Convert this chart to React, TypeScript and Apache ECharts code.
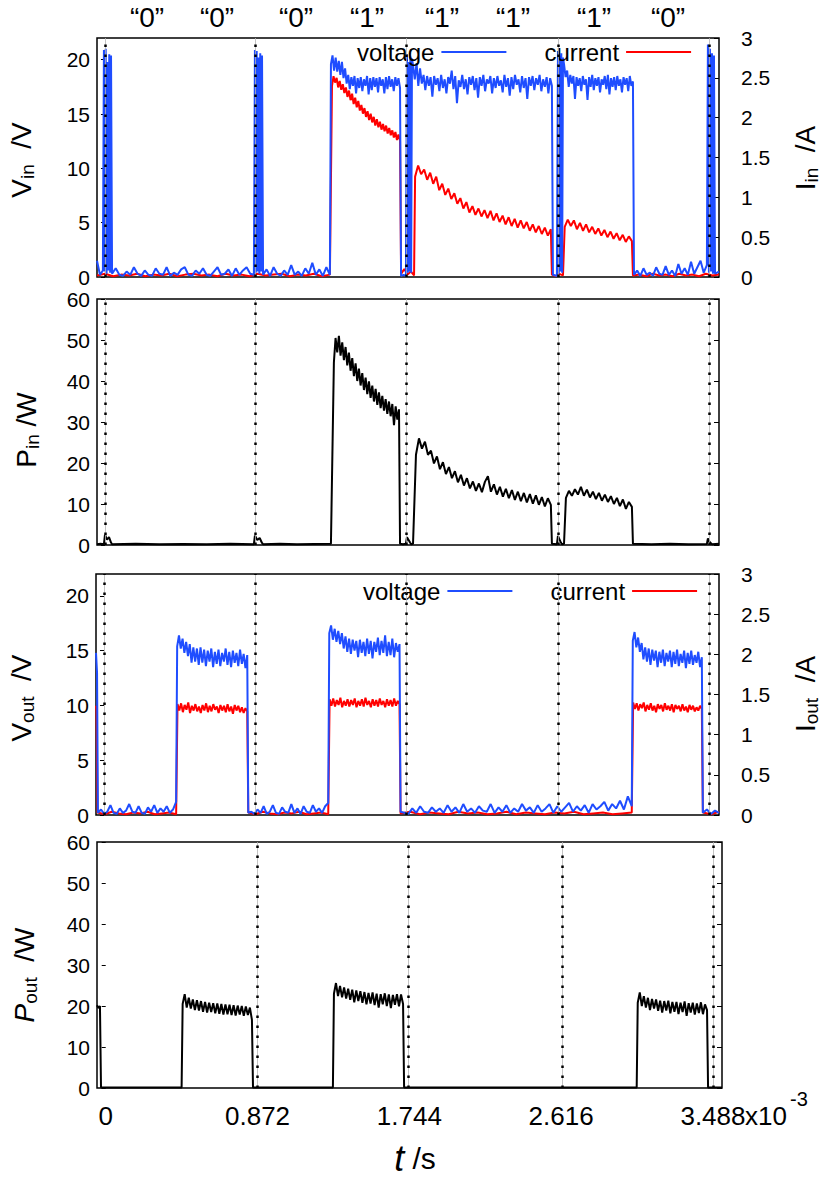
import React, { useEffect, useRef } from 'react';
import * as echarts from 'echarts';

const FONT = 'Liberation Sans, Arial, Helvetica, sans-serif';
const BLUE = '#1f4dff';
const RED = '#ff0000';
const BLACK = '#000000';

type Run = [number, number, number[]];

// time in ms (axis shown as x10^-3 s); each run: [tStart, tEnd, sampled values]
const vinRuns: Run[] = [
  [-0.046, -0.012, [1.5, 0.2, 0.6]],
  [-0.006, 0.035, [20.9, 0.5, 21.0, 0.3, 19.8, 0.6, 20.5, 0.4, 20.4]],
  [0.041, 0.86, [0.3, 0.8, 0.2, 0.1, 0.5, 0.2, 0.9, 0.3, 0.1, 0.6, 0.2, 0.1, 0.8, 0.3, 0.2, 0.9, 0.1, 0.4, 0.2, 0.7, 0.9, 0.2, 0.1, 0.6, 0.3, 0.8, 0.2, 0.1, 0.5, 0.9, 0.2, 0.3, 0.7, 0.1, 0.8, 0.2, 0.6, 0.9, 0.3, 0.2]],
  [0.866, 0.907, [20.9, 0.4, 20.8, 0.5, 20.2, 0.3, 20.6, 0.5, 20.4]],
  [0.913, 1.299, [0.2, 0.7, 0.1, 0.9, 0.3, 0.1, 0.6, 0.2, 1.1, 0.2, 0.5, 0.1, 0.8, 0.3, 1.3, 0.2, 0.7, 0.1, 0.9, 0.2]],
  [1.305, 1.704, [19.6, 20.4, 19.0, 20.2, 18.9, 19.9, 18.6, 19.8, 18.3, 19.2, 17.8, 18.6, 17.3, 18.4, 17.6, 18.5, 16.9, 18.3, 17.4, 18.4, 17.1, 18.2, 17.6, 18.5, 16.8, 18.3, 17.2, 18.4, 17.5, 18.3, 17.0, 18.4, 17.6, 18.2, 16.9, 18.4, 17.3, 18.5, 17.5, 18.2, 17.1, 18.4, 17.6, 18.3, 17.4]],
  [1.71, 1.738, [0.1, 0.2, 0.1]],
  [1.744, 1.773, [20.5, 0.4, 19.8, 0.5, 20.3, 0.4, 20.1]],
  [1.779, 2.581, [19.5, 18.2, 19.7, 17.6, 19.2, 17.8, 18.6, 17.2, 18.5, 17.6, 18.4, 16.6, 18.5, 17.7, 18.3, 17.1, 18.6, 17.4, 18.2, 16.9, 18.4, 17.8, 19.0, 17.3, 18.5, 16.0, 18.1, 17.5, 18.6, 17.3, 18.2, 16.8, 18.4, 17.7, 18.5, 17.2, 18.3, 16.5, 18.4, 17.6, 18.6, 17.1, 18.2, 17.8, 18.5, 16.9, 18.3, 17.4, 18.5, 17.6, 18.1, 17.0, 18.6, 17.5, 18.3, 16.7, 18.4, 17.3, 18.6, 17.7, 18.2, 17.0, 18.5, 17.4, 18.3, 16.4, 18.4, 17.6, 18.5, 17.2, 18.3, 17.7, 18.6, 17.1, 18.2, 17.5, 18.4, 16.9, 18.3, 17.6]],
  [2.587, 2.61, [0.2, 0.1]],
  [2.616, 2.645, [20.8, 0.3, 20.4, 0.5, 20.6, 0.4, 20.2]],
  [2.651, 3.049, [19.6, 18.4, 19.0, 17.5, 18.6, 17.8, 18.5, 16.4, 18.4, 17.6, 18.3, 17.1, 18.5, 17.7, 18.2, 16.3, 18.4, 17.5, 18.6, 17.2, 18.3, 17.6, 18.4, 17.0, 18.2, 17.7, 18.5, 17.3, 18.6, 16.8, 18.3, 17.5, 18.4, 17.2, 18.5, 17.6, 18.2, 17.0, 18.4, 17.7, 18.3, 17.1, 18.5, 17.6, 18.0]],
  [3.055, 3.476, [0.2, 0.6, 0.1, 0.8, 0.2, 0.4, 0.1, 0.9, 0.3, 0.2, 1.0, 0.2, 0.6, 0.1, 1.2, 0.3, 0.8, 0.2, 1.4, 0.3, 0.9, 1.5, 0.4, 1.1]],
  [3.482, 3.517, [21.4, 0.4, 21.0, 0.5, 20.6, 0.3, 20.4]],
  [3.523, 3.546, [0.3, 0.5]],
];

const iinRuns: Run[] = [
  [-0.046, 1.299, [0.02, 0.04, 0.01, 0.03, 0.02, 0.04, 0.01, 0.03, 0.02, 0.04, 0.01, 0.03, 0.04, 0.02, 0.03, 0.01, 0.04, 0.02, 0.03, 0.01, 0.04, 0.02, 0.03, 0.04, 0.01, 0.03, 0.02, 0.04, 0.01, 0.03]],
  [1.311, 1.704, [2.40, 2.52, 2.44, 2.50, 2.38, 2.46, 2.35, 2.42, 2.31, 2.38, 2.26, 2.34, 2.22, 2.30, 2.17, 2.25, 2.13, 2.21, 2.09, 2.16, 2.05, 2.12, 2.01, 2.08, 1.97, 2.05, 1.94, 2.01, 1.90, 1.98, 1.88, 1.95, 1.85, 1.92, 1.83, 1.90, 1.80, 1.87, 1.78, 1.84, 1.75, 1.82, 1.72, 1.79, 1.71]],
  [1.71, 1.785, [0.04, 0.1, 0.03, 0.07, 0.02]],
  [1.791, 2.575, [1.26, 1.40, 1.29, 1.35, 1.22, 1.31, 1.17, 1.26, 1.09, 1.17, 1.03, 1.11, 0.98, 1.05, 0.92, 0.99, 0.86, 0.94, 0.81, 0.89, 0.78, 0.86, 0.76, 0.84, 0.74, 0.83, 0.71, 0.80, 0.69, 0.77, 0.66, 0.75, 0.64, 0.73, 0.62, 0.71, 0.61, 0.69, 0.58, 0.66, 0.56, 0.64, 0.54, 0.62, 0.52, 0.60]],
  [2.581, 2.645, [0.03, 0.01, 0.04, 0.02]],
  [2.655, 3.043, [0.63, 0.72, 0.64, 0.71, 0.60, 0.68, 0.58, 0.66, 0.56, 0.63, 0.54, 0.61, 0.52, 0.59, 0.50, 0.57, 0.48, 0.55, 0.46, 0.53, 0.44, 0.51, 0.45]],
  [3.049, 3.546, [0.02, 0.03, 0.01, 0.04, 0.02, 0.03, 0.01, 0.04, 0.02, 0.03, 0.01, 0.04, 0.02, 0.03]],
];

const pinRuns: Run[] = [
  [-0.046, -0.006, [0.2, 0.3, 0.2]],
  [0.0, 0.035, [2.5, 1.3, 1.9, 0.6]],
  [0.041, 0.86, [0.2, 0.3, 0.2, 0.25, 0.2, 0.3, 0.2]],
  [0.866, 0.907, [2.3, 1.2, 1.7, 0.5]],
  [0.913, 1.305, [0.2, 0.3, 0.2, 0.25, 0.3]],
  [1.322, 1.698, [44.5, 50.5, 47.0, 51.0, 46.2, 49.4, 45.1, 48.3, 43.8, 46.9, 42.5, 45.6, 41.2, 44.3, 40.0, 43.0, 38.9, 41.9, 37.8, 40.8, 36.8, 39.9, 35.9, 38.9, 35.0, 38.1, 34.2, 37.2, 33.4, 36.4, 32.8, 35.6, 32.0, 35.0, 31.4, 34.4, 29.2, 33.8, 30.6, 33.1]],
  [1.704, 1.738, [0.3, 0.2, 0.3]],
  [1.744, 1.762, [1.9, 0.6]],
  [1.768, 1.779, [0.2, 0.3]],
  [1.796, 2.575, [22.0, 26.0, 23.5, 25.2, 22.0, 23.0, 19.9, 21.6, 18.5, 20.2, 17.3, 19.0, 16.3, 18.0, 15.3, 17.1, 14.5, 16.3, 13.8, 15.5, 13.2, 15.0, 12.9, 15.4, 16.8, 13.0, 14.8, 12.3, 14.2, 11.8, 13.7, 11.4, 13.4, 11.0, 13.0, 10.7, 12.7, 10.4, 12.4, 10.1, 12.1, 9.8, 11.7, 9.4, 11.4, 9.8]],
  [2.581, 2.61, [0.3, 0.2]],
  [2.616, 2.633, [2.2, 0.6]],
  [2.639, 2.651, [0.2, 0.3]],
  [2.662, 3.043, [11.5, 13.2, 12.0, 13.6, 12.3, 14.2, 12.0, 13.5, 11.6, 13.0, 11.2, 12.7, 10.8, 12.3, 10.5, 11.9, 10.0, 11.5, 9.5, 11.1, 8.8, 10.5, 9.3]],
  [3.049, 3.476, [0.3, 0.2, 0.3, 0.2, 0.25]],
  [3.482, 3.5, [1.6, 0.8, 0.4]],
  [3.506, 3.546, [0.2, 0.3]],
];

const voutRuns: Run[] = [
  [-0.046, -0.04, [14.8, 13.0]],
  [-0.035, 0.416, [0.2, 0.5, 0.1, 0.3, 0.9, 0.2, 0.1, 0.6, 0.2, 0.4, 1.0, 0.3, 0.2, 0.8, 0.2, 0.1, 0.7, 0.3, 0.9, 0.2, 0.6, 0.3, 0.8, 0.2, 0.5, 1.2]],
  [0.422, 0.826, [15.4, 16.4, 15.2, 16.1, 14.8, 15.8, 14.5, 15.6, 13.9, 15.3, 14.0, 15.2, 13.7, 15.3, 13.9, 15.1, 13.6, 15.0, 14.0, 15.2, 13.5, 14.9, 13.8, 15.1, 13.6, 14.8, 14.0, 15.2, 13.7, 14.9, 13.5, 15.0, 13.9, 14.8, 13.6, 15.1, 13.8, 14.7, 13.4, 14.6]],
  [0.832, 1.293, [0.2, 0.3, 0.1, 0.5, 0.2, 0.8, 0.1, 0.3, 0.9, 0.2, 0.1, 0.7, 0.3, 0.2, 1.0, 0.2, 0.6, 0.1, 0.8, 0.3, 0.2, 0.9, 0.3, 0.6, 0.2, 0.8, 1.1]],
  [1.299, 1.704, [16.6, 17.3, 16.0, 17.0, 15.8, 16.8, 15.6, 16.6, 15.2, 16.3, 14.9, 16.1, 14.7, 16.0, 15.0, 15.9, 14.4, 16.0, 14.8, 15.8, 14.5, 16.1, 14.7, 15.9, 14.3, 15.8, 14.9, 16.2, 14.6, 15.9, 14.8, 16.4, 14.5, 15.8, 14.6, 16.1, 14.4, 15.7, 14.9, 15.6]],
  [1.71, 3.043, [0.3, 0.2, 0.1, 0.6, 0.2, 0.8, 0.3, 0.2, 0.7, 0.3, 0.6, 0.2, 0.9, 0.3, 0.7, 0.2, 1.0, 0.3, 0.6, 0.2, 0.8, 0.4, 0.3, 1.0, 0.2, 0.7, 0.3, 0.9, 0.2, 0.6, 0.3, 1.0, 0.4, 0.7, 0.2, 0.9, 0.3, 0.6, 1.0, 0.2, 0.8, 0.3, 0.7, 1.1, 0.3, 0.8, 0.4, 0.9, 0.2, 1.0, 0.5, 0.8, 1.2, 0.4, 1.0, 0.6, 1.3, 0.5, 1.7, 0.8]],
  [3.049, 3.447, [15.9, 16.7, 15.3, 16.2, 14.9, 15.7, 14.2, 15.3, 14.0, 15.2, 13.7, 15.1, 14.1, 15.0, 13.5, 14.9, 13.9, 15.1, 13.6, 14.8, 14.0, 15.0, 13.5, 14.9, 13.8, 15.1, 13.6, 14.7, 13.9, 15.0, 13.4, 14.8, 13.8, 15.0, 13.7, 14.6, 13.9, 14.9, 13.5, 14.4]],
  [3.453, 3.546, [0.2, 0.5, 0.1, 0.4, 0.2]],
];

const ioutRuns: Run[] = [
  [-0.046, -0.043, [1.36, 1.3]],
  [-0.037, 0.416, [0.03, 0.01, 0.04, 0.02, 0.01, 0.03, 0.02, 0.04, 0.01, 0.02, 0.03, 0.01]],
  [0.424, 0.826, [1.38, 1.30, 1.39, 1.28, 1.37, 1.31, 1.40, 1.27, 1.36, 1.30, 1.38, 1.29, 1.35, 1.27, 1.37, 1.30, 1.39, 1.28, 1.36, 1.29, 1.38, 1.31, 1.35, 1.27, 1.37, 1.30, 1.36, 1.28, 1.38, 1.29, 1.35, 1.26, 1.37, 1.30, 1.36, 1.28, 1.34, 1.27, 1.33, 1.29]],
  [0.832, 1.293, [0.03, 0.01, 0.04, 0.02, 0.01, 0.03, 0.02, 0.04, 0.01, 0.02, 0.03, 0.01]],
  [1.301, 1.704, [1.44, 1.36, 1.45, 1.35, 1.43, 1.37, 1.46, 1.34, 1.42, 1.36, 1.44, 1.35, 1.43, 1.37, 1.45, 1.34, 1.42, 1.36, 1.44, 1.35, 1.46, 1.37, 1.42, 1.34, 1.44, 1.36, 1.43, 1.35, 1.45, 1.37, 1.42, 1.34, 1.44, 1.36, 1.43, 1.35, 1.45, 1.36, 1.42, 1.38]],
  [1.71, 3.043, [0.02, 0.04, 0.01, 0.03, 0.02, 0.01, 0.04, 0.02, 0.03, 0.01, 0.02, 0.04, 0.01, 0.03, 0.02, 0.01, 0.03, 0.02, 0.04, 0.01, 0.02, 0.03, 0.01, 0.02, 0.03]],
  [3.051, 3.447, [1.40, 1.32, 1.39, 1.30, 1.38, 1.33, 1.40, 1.29, 1.37, 1.31, 1.39, 1.30, 1.36, 1.28, 1.38, 1.32, 1.37, 1.29, 1.39, 1.31, 1.36, 1.30, 1.38, 1.28, 1.37, 1.32, 1.36, 1.29, 1.38, 1.30, 1.35, 1.28, 1.37, 1.31, 1.36, 1.29, 1.34, 1.30, 1.36, 1.32]],
  [3.453, 3.546, [0.03, 0.01, 0.04]],
];

const poutRuns: Run[] = [
  [-0.05, -0.033, [20.2, 19.5, 20.0]],
  [-0.027, 0.436, [0.1, 0.15, 0.1, 0.12, 0.1]],
  [0.442, 0.84, [20.5, 22.9, 19.6, 22.0, 19.4, 21.6, 19.0, 21.4, 18.9, 21.2, 18.6, 21.0, 18.4, 20.8, 18.5, 20.7, 18.2, 20.6, 18.1, 20.5, 17.9, 20.4, 18.0, 20.3, 17.8, 20.2, 17.7, 20.1, 17.9, 20.0, 17.6, 19.9, 17.8, 19.6, 16.6]],
  [0.846, 1.305, [0.1, 0.12, 0.1, 0.15]],
  [1.311, 1.708, [23.0, 25.6, 22.4, 24.9, 22.1, 24.5, 21.8, 24.2, 21.5, 24.0, 20.9, 23.8, 21.2, 23.6, 20.8, 23.4, 20.4, 23.2, 20.6, 23.3, 20.2, 23.0, 19.6, 22.9, 20.4, 23.1, 20.0, 22.8, 19.5, 22.7, 20.3, 22.9, 19.9, 22.8, 20.5]],
  [1.714, 3.05, [0.1, 0.12, 0.1, 0.15, 0.1, 0.12]],
  [3.056, 3.454, [20.8, 23.3, 20.0, 22.4, 19.6, 22.0, 19.0, 21.7, 19.4, 21.6, 18.8, 21.3, 18.4, 21.2, 18.9, 21.3, 18.2, 21.0, 18.6, 21.0, 18.0, 20.8, 18.5, 21.1, 17.6, 20.7, 18.4, 20.8, 17.9, 20.6, 18.3, 20.9, 18.0, 20.4, 19.0]],
  [3.46, 3.54, [0.1, 0.12, 0.1]],
];

const bitLabels = ['“0”', '“0”', '“0”', '“1”', '“1”', '“1”', '“1”', '“0”'];
const timeTicks = [0, 0.872, 1.744, 2.616, 3.488];
const guideTimesIn = [0, 0.872, 1.744, 2.616, 3.488];
const guideTimesOut = [0.872, 1.744, 2.616, 3.488];
const voltTicks = [0, 5, 10, 15, 20];
const legendNames = ['voltage', 'current'];

// layout (pixels)
const bitLabelX = [147, 217, 296, 367, 442, 513, 594, 668];

function expand(runs: Run[]): [number, number][] {
  const pts: [number, number][] = [];
  runs.forEach(([t0, t1, vals]) => {
    const n = vals.length;
    vals.forEach((v, i) => {
      const t = n === 1 ? t0 : t0 + ((t1 - t0) * i) / (n - 1);
      pts.push([t, v]);
    });
  });
  return pts;
}

function guides(times: number[]) {
  const data: any[] = [];
  times.forEach((t) => {
    data.push({ xAxis: t, lineStyle: { color: '#b4b4b4', width: 0.8, type: 'solid' } });
    data.push({ xAxis: t, lineStyle: { color: '#000', width: 2.5, type: [2.5, 7.5] } });
  });
  return {
    silent: true,
    symbol: ['none', 'none'],
    label: { show: false },
    emphasis: { disabled: true },
    animation: false,
    data,
  };
}

const tickLabelStyle = { fontSize: 21, fontFamily: FONT, color: '#000' };

function leftAxis(grid: number, max: number, custom?: number[], interval?: number) {
  const ax: any = {
    gridIndex: grid,
    type: 'value',
    min: 0,
    max,
    position: 'left',
    axisLine: { show: false },
    splitLine: { show: false },
    axisTick: { show: true, inside: false, length: 4, lineStyle: { color: '#000', width: 1 } },
    axisLabel: { ...tickLabelStyle, margin: 7 },
  };
  if (custom) {
    ax.axisTick.customValues = custom;
    ax.axisLabel.customValues = custom;
  }
  if (interval) ax.interval = interval;
  return ax;
}

function rightAxis(grid: number, max: number, interval: number, labels: boolean) {
  return {
    gridIndex: grid,
    type: 'value',
    min: 0,
    max,
    interval,
    position: 'right',
    axisLine: { show: false },
    splitLine: { show: false },
    axisTick: { show: true, inside: true, length: 5, lineStyle: { color: '#000', width: 1 } },
    axisLabel: { ...tickLabelStyle, margin: 22, show: labels },
  };
}

function hiddenX(grid: number) {
  return {
    gridIndex: grid,
    type: 'value',
    min: -0.046,
    max: 3.546,
    axisLine: { show: false },
    axisTick: { show: false },
    axisLabel: { show: false },
    splitLine: { show: false },
  };
}

const titleRich: any = {
  m: { fontSize: 28, fontFamily: FONT, fill: '#000', color: '#000', lineHeight: 30, verticalAlign: 'top' },
  mi: { fontSize: 28, fontFamily: FONT, fontStyle: 'italic', fill: '#000', color: '#000', lineHeight: 30, verticalAlign: 'top' },
  s: { fontSize: 19, fontFamily: FONT, fill: '#000', color: '#000', lineHeight: 20, padding: [15, 0, 0, 0], verticalAlign: 'bottom' },
};

function rotTitle(x: number, y: number, text: string) {
  return {
    type: 'text',
    x,
    y,
    rotation: Math.PI / 2,
    style: {
      text,
      rich: titleRich,
      align: 'center',
      verticalAlign: 'middle',
      textAlign: 'center',
      textVerticalAlign: 'middle',
      fill: '#000',
    },
  };
}

function plainText(x: number, y: number, text: string, size: number, align = 'center') {
  return {
    type: 'text',
    x,
    y,
    style: {
      text,
      fontSize: size,
      fontFamily: FONT,
      fill: '#000',
      align,
      verticalAlign: 'middle',
      textAlign: align,
      textVerticalAlign: 'middle',
    },
  };
}

function lineSeries(name: string, xi: number, yi: number, runs: Run[], color: string, mark?: number[]) {
  const s: any = {
    type: 'line',
    name,
    xAxisIndex: xi,
    yAxisIndex: yi,
    data: expand(runs),
    symbol: 'none',
    showSymbol: false,
    lineStyle: { color, width: 2, join: 'bevel' },
    itemStyle: { color },
    emphasis: { disabled: true },
    silent: true,
  };
  if (mark) s.markLine = guides(mark);
  return s;
}

function legend(left: number, top: number) {
  return {
    left,
    top,
    padding: 0,
    data: legendNames,
    align: 'right',
    icon: 'rect',
    itemWidth: 65,
    itemHeight: 2,
    itemGap: 38,
    selectedMode: false,
    textStyle: { fontSize: 24, fontFamily: FONT, color: '#000', padding: [0, 2, 0, 0] },
  };
}

export default function App() {
  const ref = useRef<HTMLDivElement>(null);
  useEffect(() => {
    if (!ref.current) return;
    const chart = echarts.init(ref.current, undefined, { renderer: 'svg' });
    const option: any = {
      animation: false,
      backgroundColor: '#fff',
      grid: [
        { left: 97, top: 38, width: 622, height: 239, show: true, borderColor: '#000', borderWidth: 1.5, backgroundColor: 'transparent' },
        { left: 97, top: 299, width: 622, height: 246, show: true, borderColor: '#000', borderWidth: 1.5, backgroundColor: 'transparent' },
        { left: 96, top: 574, width: 623, height: 241, show: true, borderColor: '#000', borderWidth: 1.5, backgroundColor: 'transparent' },
        { left: 97, top: 842, width: 625, height: 246, show: true, borderColor: '#000', borderWidth: 1.5, backgroundColor: 'transparent' },
      ],
      xAxis: [
        hiddenX(0),
        hiddenX(1),
        hiddenX(2),
        {
          gridIndex: 3,
          type: 'value',
          min: -0.05,
          max: 3.54,
          axisLine: { show: false },
          axisTick: { show: false },
          splitLine: { show: false },
          axisLabel: {
            customValues: timeTicks,
            fontSize: 26,
            fontFamily: FONT,
            color: '#000',
            margin: 15,
            formatter: (v: number) => (v === 0 ? '0' : v.toFixed(3)),
          },
        },
      ],
      yAxis: [
        leftAxis(0, 22, voltTicks),
        rightAxis(0, 3, 0.5, true),
        leftAxis(1, 60, undefined, 10),
        rightAxis(1, 60, 10, false),
        leftAxis(2, 22, voltTicks),
        rightAxis(2, 3, 0.5, true),
        leftAxis(3, 60, undefined, 10),
        rightAxis(3, 60, 10, false),
      ],
      legend: [legend(357, 40), legend(363, 579)],
      series: [
        lineSeries('current', 0, 1, iinRuns, RED),
        lineSeries('voltage', 0, 0, vinRuns, BLUE, guideTimesIn),
        lineSeries('Pin', 1, 2, pinRuns, BLACK, guideTimesIn),
        lineSeries('current', 2, 5, ioutRuns, RED),
        lineSeries('voltage', 2, 4, voutRuns, BLUE, guideTimesIn),
        lineSeries('Pout', 3, 6, poutRuns, BLACK, guideTimesOut),
      ],
      graphic: [
        ...bitLabels.map((s, i) => plainText(bitLabelX[i], 17, s, 28)),
        rotTitle(22, 160, '{m|V}{s|in}{m|  /V}'),
        rotTitle(806, 158, '{m|I}{s|in}{m|  /A}'),
        rotTitle(27, 430, '{m|P}{s|in}{m| /W}'),
        rotTitle(22, 698, '{m|V}{s|out}{m|  /V}'),
        rotTitle(806, 694, '{m|I}{s|out}{m|  /A}'),
        rotTitle(25, 975, '{mi|P}{s|out}{m|  /W}'),
        plainText(745, 1116, 'x10', 26, 'left'),
        plainText(790, 1099, '-3', 20, 'left'),
        {
          type: 'text',
          x: 415,
          y: 1158,
          style: {
            text: '{t|t}{n| /s}',
            rich: {
              t: { fontSize: 36, fontStyle: 'italic', fontFamily: FONT, fill: '#000', color: '#000' },
              n: { fontSize: 30, fontFamily: FONT, fill: '#000', color: '#000' },
            },
            align: 'center',
            verticalAlign: 'middle',
            textAlign: 'center',
            textVerticalAlign: 'middle',
          },
        },
      ],
    };
    chart.setOption(option);
    return () => chart.dispose();
  }, []);
  return <div ref={ref} style={{ position: 'absolute', left: 0, top: 0, width: 831, height: 1187 }} />;
}
